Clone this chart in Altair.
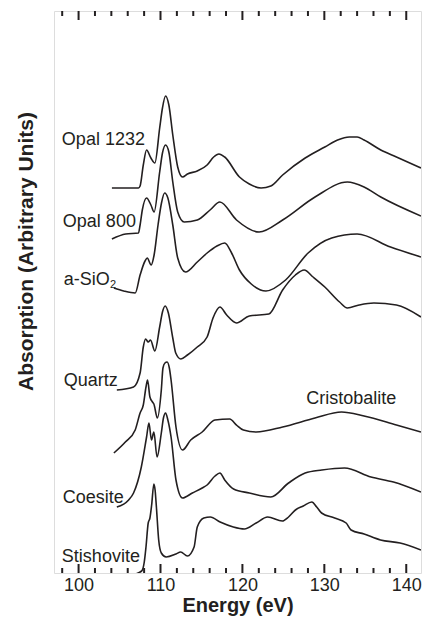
import altair as alt
import pandas as pd

# ---- data (energy in eV, absorption in arbitrary units) ----
opal1232_e = [104.07, 107.31, 107.51, 107.90, 108.30, 108.83, 109.31, 109.90, 110.24, 110.62, 111.02, 111.50,
              112.10, 112.69, 113.29, 114.49, 115.69, 116.49, 117.13, 117.84, 119.64, 120.84, 122.28, 123.47,
              124.91, 127.66, 130.06, 131.62, 133.05, 134.01, 134.85, 136.89, 138.80, 141.80]
opal1232_a = [387, 387, 389, 410, 425, 417, 412, 447, 467, 479, 470, 440,
              408, 398, 401, 404, 410, 418, 421, 418, 398, 391, 387, 389,
              400, 417, 428, 435, 438, 438, 435, 425, 418, 407]

opal800_e = [104.07, 105.75, 107.31, 107.51, 107.78, 108.30, 108.83, 109.22, 109.90, 110.24, 110.62, 111.02,
             111.50, 112.10, 112.90, 114.49, 116.05, 117.25, 119.28, 122.04, 124.91, 128.86, 132.81, 134.85,
             136.89, 141.80]
opal800_a = [336, 341, 342, 350, 365, 377, 370, 363, 403, 422, 430, 423,
             393, 363, 353, 355, 365, 373, 355, 343, 355, 378, 393, 388,
             378, 359]

asio2_e = [104.31, 105.51, 106.91, 107.51, 108.11, 108.38, 108.86, 109.22, 109.70, 110.12, 110.50, 110.90,
           111.50, 112.10, 113.05, 114.49, 115.69, 116.89, 117.84, 118.68, 119.64, 121.08, 122.87, 125.27,
           128.02, 130.90, 134.01, 138.08, 141.80]
asio2_a = [287, 284, 282, 300, 314, 317, 310, 320, 350, 372, 382, 377,
           350, 317, 303, 313, 322, 329, 332, 322, 305, 291, 284, 295,
           322, 337, 341, 328, 318]

quartz_e = [104.67, 106.71, 107.51, 107.90, 108.18, 108.50, 108.78, 109.31, 109.90, 110.24, 110.57, 110.96,
            111.50, 111.86, 112.49, 113.29, 114.49, 115.69, 116.41, 117.25, 118.08, 119.28, 120.84, 123.23,
            124.91, 126.47, 127.54, 128.62, 130.06, 131.86, 132.81, 134.25, 136.05, 138.80, 141.80]
quartz_a = [185, 188, 202, 228, 236, 233, 235, 224, 248, 263, 269, 262,
            237, 222, 216, 220, 228, 238, 257, 268, 260, 252, 259, 261,
            285, 300, 305, 298, 288, 273, 267, 270, 272, 270, 258]

cristobalite_e = [104.31, 105.71, 106.91, 107.51, 107.90, 108.23, 108.42, 108.71, 109.02, 109.19, 109.62, 110.10,
                  110.30, 110.54, 110.81, 111.08, 111.29, 111.89, 112.69, 113.69, 115.09, 116.65, 118.44, 119.28,
                  120.12, 121.68, 124.91, 128.86, 132.10, 134.85, 138.80, 141.80]
cristobalite_a = [122, 133, 145, 162, 170, 188, 195, 178, 173, 171, 157, 185,
                  207, 212, 213, 207, 195, 148, 125, 135, 143, 155, 156, 150,
                  145, 143, 148, 157, 163, 159, 150, 143]

coesite_e = [104.67, 106.11, 106.71, 107.66, 108.30, 108.59, 108.90, 109.19, 109.58, 110.10, 110.36, 110.62,
             110.90, 111.29, 111.89, 112.69, 113.89, 115.09, 115.69, 116.65, 117.25, 117.84, 118.92, 120.84,
             123.47, 125.63, 127.66, 129.70, 132.46, 135.69, 138.44, 141.80]
coesite_a = [68, 75, 82, 108, 138, 152, 135, 143, 118, 142, 157, 162,
             155, 138, 95, 77, 82, 87, 90, 99, 102, 95, 86, 82,
             78, 92, 102, 105, 107, 98, 93, 83]

stishovite_e = [106.47, 107.70, 108.02, 108.23, 108.50, 108.71, 108.92, 109.19, 109.34, 109.50, 109.78, 110.10,
                110.69, 111.89, 112.46, 113.29, 114.10, 114.49, 115.29, 116.08, 117.28, 118.89, 120.24, 121.68,
                123.08, 124.87, 125.63, 126.47, 127.43, 128.47, 129.07, 129.66, 131.26, 132.66, 133.26, 134.85,
                136.85, 139.25, 141.80]
stishovite_a = [0, 4, 13, 28, 52, 57, 70, 91, 85, 68, 35, 22,
                18, 21, 23, 19, 28, 48, 57, 58, 53, 48, 46, 52,
                58, 54, 58, 65, 69, 73, 68, 62, 57, 52, 45, 41,
                35, 32, 25]

series = {
    "Opal 1232": (opal1232_e, opal1232_a),
    "Opal 800": (opal800_e, opal800_a),
    "a-SiO2": (asio2_e, asio2_a),
    "Quartz": (quartz_e, quartz_a),
    "Cristobalite": (cristobalite_e, cristobalite_a),
    "Coesite": (coesite_e, coesite_a),
    "Stishovite": (stishovite_e, stishovite_a),
}

# curve labels and where they sit (data coordinates)
label_text = ["Opal 1232", "Opal 800", "a-SiO", "Quartz", "Cristobalite", "Coesite", "Stishovite"]
label_e = [97.96, 98.08, 98.20, 98.20, 127.78, 98.08, 97.96]
label_a = [430, 348, 290, 189, 171, 72, 13]
sub_text = ["2"]
sub_e = [103.85]
sub_a = [287]

axis_labels = [100, 110, 120, 130, 140]
major_ticks = [100, 110, 120, 130, 140]
minor_ticks = [98, 102, 104, 106, 108, 112, 114, 116, 118, 122, 124, 126, 128, 132, 134, 136, 138]

rows = []
for name, (es, ab) in series.items():
    for e, a in zip(es, ab):
        rows.append({"sample": name, "energy": e, "absorption": a})
df = pd.DataFrame(rows)
labels_df = pd.DataFrame({"text": label_text, "energy": label_e, "absorption": label_a})
sub_df = pd.DataFrame({"text": sub_text, "energy": sub_e, "absorption": sub_a})
major_df = pd.DataFrame({"energy": major_ticks})
minor_df = pd.DataFrame({"energy": minor_ticks})

W, H = 367, 562
FONT = "Liberation Sans"
INK = "#231f20"

xscale = alt.Scale(domain=[97, 141.8], nice=False, zero=False)
yscale = alt.Scale(domain=[2, 564], nice=False, zero=False)

x_enc = alt.X("energy:Q", scale=xscale,
              axis=alt.Axis(title="Energy (eV)", values=axis_labels, ticks=False, tickSize=0, domain=False,
                            grid=False, labelFont=FONT, labelFontSize=18, labelColor=INK, labelPadding=3,
                            titleFont=FONT, titleFontSize=20, titleFontWeight="bold", titleColor=INK,
                            titleY=38, titleBaseline="alphabetic", labelFlush=False))
y_enc = alt.Y("absorption:Q", scale=yscale,
              axis=alt.Axis(title="Absorption (Arbitrary Units)", labels=False, ticks=False, domain=False,
                            grid=False, titleFont=FONT, titleFontSize=21, titleFontWeight="bold",
                            titleColor=INK, titleX=-22, titleY=240, titleBaseline="alphabetic",
                            titleAngle=270))

lines = alt.Chart(df).mark_line(interpolate="monotone", color=INK, strokeWidth=1.6, clip=True).encode(
    x=x_enc, y=y_enc, detail="sample:N", order="energy:Q")

labels = alt.Chart(labels_df).mark_text(align="left", baseline="alphabetic", font=FONT, fontSize=18,
                                        color=INK).encode(
    x=alt.X("energy:Q", scale=xscale), y=alt.Y("absorption:Q", scale=yscale), text="text:N")
subs = alt.Chart(sub_df).mark_text(align="left", baseline="alphabetic", font=FONT, fontSize=11,
                                   color=INK).encode(
    x=alt.X("energy:Q", scale=xscale), y=alt.Y("absorption:Q", scale=yscale), text="text:N")

def tick_layer(data, y0, y1):
    return alt.Chart(data).mark_rule(color=INK, strokeWidth=2).encode(
        x=alt.X("energy:Q", scale=xscale), y=alt.value(y0), y2=alt.value(y1))

ticks = (tick_layer(major_df, H, H - 9) + tick_layer(minor_df, H, H - 5) +
         tick_layer(major_df, 0, 9) + tick_layer(minor_df, 0, 5))

chart = alt.layer(lines, labels, subs, ticks).properties(
    width=W, height=H,
    autosize=alt.AutoSizeParams(type="none"),
    padding={"left": 46, "top": 3, "right": 1, "bottom": 43},
).configure_view(stroke="#000000", strokeWidth=2).configure(background="white")

chart.save("out.html", embed_options={"renderer": "svg", "actions": False})
